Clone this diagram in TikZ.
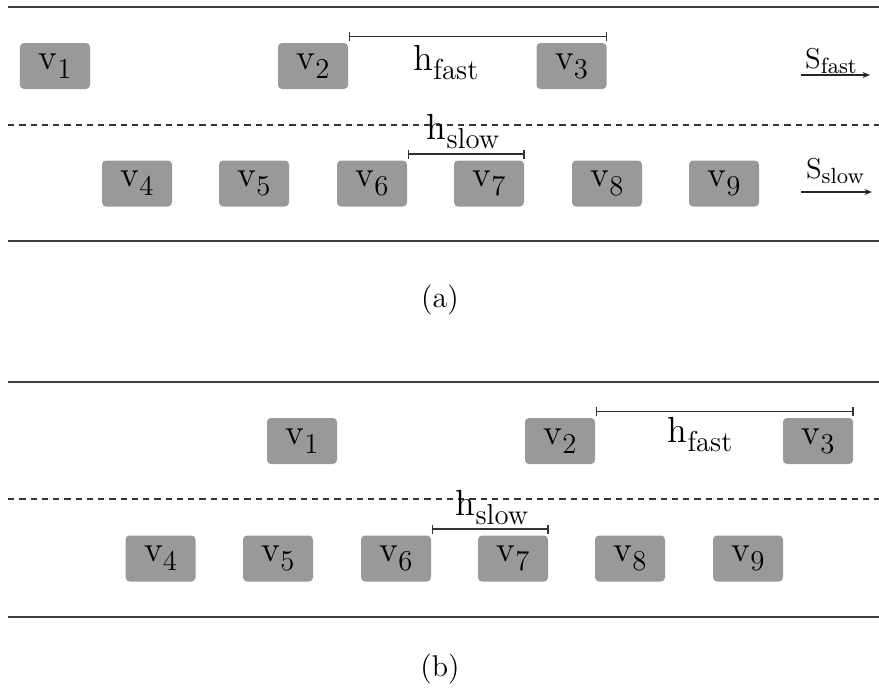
\documentclass[tikz,border=0pt]{standalone}
\usepackage{fontspec}
\usetikzlibrary{arrows.meta}
\newcommand{\sublab}[5]{{\fontsize{#3}{#3}\selectfont #1}\raisebox{-#5}{\fontsize{#4}{#4}\selectfont #2}}
\newcommand{\vlab}[1]{\sublab{v}{#1}{14.5pt}{11.5pt}{3.6pt}}
\newcommand{\hlab}[1]{\sublab{h}{#1}{14.5pt}{11.5pt}{3.6pt}}
\newcommand{\spdlab}[1]{\sublab{S}{#1}{11.5pt}{8.8pt}{2.2pt}}
\begin{document}
\begin{tikzpicture}[x=0.4pt,y=-0.4pt,
  car/.style={fill=black!40, rounded corners=1.6pt, minimum width=28pt,
    minimum height=18.4pt, inner sep=0pt},
  lane/.style={line width=0.65pt, draw=black!75},
  midlane/.style={line width=0.5pt, draw=black!80, dash pattern=on 2.5pt off 2pt},
  gap/.style={line width=0.5pt, draw=black!80, {Bar[width=3.6pt]}-{Bar[width=3.6pt]}},
  dir/.style={line width=0.5pt, draw=black!85, -{Stealth[length=3pt,width=2.4pt]}},
  lbl/.style={anchor=base, inner sep=0pt},
  captext/.style={font=\fontsize{12pt}{12pt}\selectfont}]
\useasboundingbox (0,0) rectangle (879,694);

% ---------- panel (a) ----------
\draw[lane] (8,7) -- (879,7);
\draw[midlane] (8,125) -- (879,125);
\draw[lane] (8,241) -- (879,241);

\node[car] (a1) at (55,66) {\vlab{1}};
\node[car] (a2) at (313,66) {\vlab{2}};
\node[car] (a3) at (571.5,66) {\vlab{3}};
\node[car] (a4) at (137,183.5) {\vlab{4}};
\node[car] (a5) at (254,183.5) {\vlab{5}};
\node[car] (a6) at (372,183.5) {\vlab{6}};
\node[car] (a7) at (489,183.5) {\vlab{7}};
\node[car] (a8) at (607,183.5) {\vlab{8}};
\node[car] (a9) at (724,183.5) {\vlab{9}};

\draw[gap] ([yshift=2.4pt]a2.north east) -- ([yshift=2.4pt]a3.north east);
\node[lbl] (ahf) at (446,70) {\hlab{fast}};
\draw[gap] ([yshift=2.4pt]a6.north east) -- ([yshift=2.4pt]a7.north east);
\node[lbl] (ahs) at (463,139) {\hlab{slow}};

\node[lbl] (asf) at (831,68) {\spdlab{fast}};
\coordinate (asf0) at (801,75);
\coordinate (asf1) at (870,75);
\draw[dir] (asf0) -- (asf1);
\node[lbl] (ass) at (835,178) {\spdlab{slow}};
\coordinate (ass0) at (801,192);
\coordinate (ass1) at (872,192);
\draw[dir] (ass0) -- (ass1);

\node[captext] (capa) at (440,300) {(a)};

% ---------- panel (b) ----------
\draw[lane] (8,382) -- (879,382);
\draw[midlane] (8,499) -- (879,499);
\draw[lane] (8,617) -- (879,617);

\node[car] (b1) at (302,441) {\vlab{1}};
\node[car] (b2) at (560,441) {\vlab{2}};
\node[car] (b3) at (818,441) {\vlab{3}};
\node[car] (b4) at (160.5,558.5) {\vlab{4}};
\node[car] (b5) at (278,558.5) {\vlab{5}};
\node[car] (b6) at (396,558.5) {\vlab{6}};
\node[car] (b7) at (513,558.5) {\vlab{7}};
\node[car] (b8) at (630,558.5) {\vlab{8}};
\node[car] (b9) at (748,558.5) {\vlab{9}};

\draw[gap] ([yshift=2.4pt]b2.north east) -- ([yshift=2.4pt]b3.north east);
\node[lbl] (bhf) at (700,442) {\hlab{fast}};
\draw[gap] ([yshift=2.4pt]b6.north east) -- ([yshift=2.4pt]b7.north east);
\node[lbl] (bhs) at (492,515) {\hlab{slow}};

\node[captext] (capb) at (440,669) {(b)};
\end{tikzpicture}
\end{document}
